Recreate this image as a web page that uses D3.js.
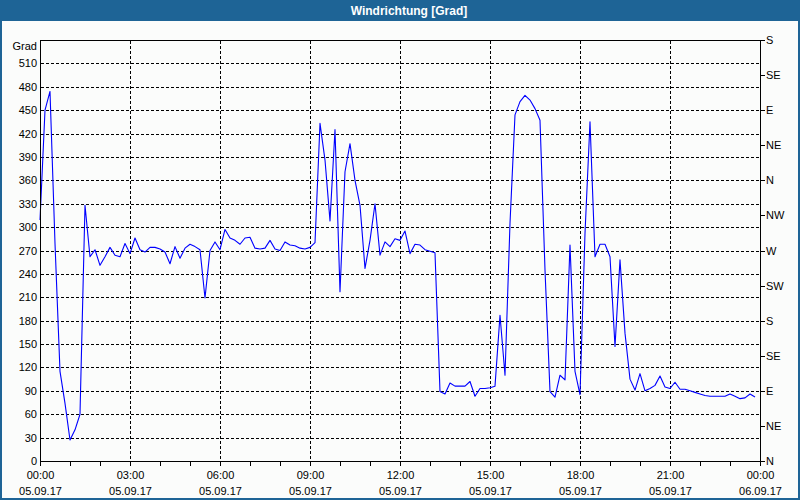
<!DOCTYPE html>
<html>
<head>
<meta charset="utf-8">
<script src="https://cdn.jsdelivr.net/npm/d3@7"></script>
<style>
  html, body { margin: 0; padding: 0; background: #ffffff; }
  svg { display: block; }
  text { font-family: "Liberation Sans", Arial, sans-serif; }
</style>
</head>
<body>
<svg id="chart" width="800" height="500"></svg>
<script>
// ---- data ----
const chartTitle = "Windrichtung [Grad]";
const yUnit = "Grad";
const startTime = new Date(2017, 8, 5, 0, 0);
const endTime = new Date(2017, 8, 6, 0, 0);
const stepMinutes = 10;
// wind direction values [Grad], one every 10 minutes from 05.09.17 00:00
const windDir = [
  309, 450, 474, 279, 115, 74, 27, 40, 60, 328,
  262, 271, 251, 262, 274, 264, 262, 279, 266, 286,
  271, 268, 274, 274, 272, 268, 253, 275, 260, 273,
  278, 275, 271, 209, 270, 281, 271, 297, 286, 283,
  278, 286, 287, 273, 272, 273, 283, 272, 270, 281,
  277, 276, 273, 272, 274, 280, 433, 386, 308, 425,
  217, 371, 407, 360, 328, 247, 283, 330, 264, 281,
  275, 285, 283, 295, 266, 278, 277, 271, 269, 267,
  89, 86, 100, 96, 96, 96, 102, 83, 93, 93,
  94, 96, 187, 110, 305, 444, 461, 469, 463, 452,
  437, 245, 89, 82, 110, 104, 277, 115, 85, 292,
  435, 262, 278, 278, 262, 147, 258, 164, 105, 91,
  112, 90, 93, 97, 109, 95, 93, 101, 92, 92,
  90, 88, 86, 84, 83, 83, 83, 83, 86, 83,
  80, 81, 86, 82
];
const yTicks = [0, 30, 60, 90, 120, 150, 180, 210, 240, 270, 300, 330, 360, 390, 420, 450, 480, 510];
const compassTicks = [0, 45, 90, 135, 180, 225, 270, 315, 360, 405, 450, 495, 540];
const compassLabels = ["N", "NE", "E", "SE", "S", "SW", "W", "NW", "N", "NE", "E", "SE", "S"];
const xTimeLabels = ["00:00", "03:00", "06:00", "09:00", "12:00", "15:00", "18:00", "21:00", "00:00"];
const xDateLabels = ["05.09.17", "05.09.17", "05.09.17", "05.09.17", "05.09.17", "05.09.17", "05.09.17", "05.09.17", "06.09.17"];

// ---- layout ----
const W = 800, H = 500;
const plot = { left: 40, right: 760, top: 40, bottom: 461 };
const svg = d3.select("#chart");

const x = d3.scaleTime().domain([startTime, endTime]).range([plot.left, plot.right]);
const y = d3.scaleLinear().domain([0, 540]).range([plot.bottom, plot.top]);
const px = v => Math.round(v) + 0.5;

// background
svg.append("rect").attr("x", 0).attr("y", 0).attr("width", W).attr("height", H).attr("fill", "#fbfcfb");
// title bar
svg.append("rect").attr("x", 0).attr("y", 0).attr("width", W).attr("height", 21).attr("fill", "#1e6496");
svg.append("text").attr("x", 409).attr("y", 15).attr("text-anchor", "middle")
  .attr("fill", "#ffffff").attr("font-size", 12).attr("font-weight", "bold").text(chartTitle);
// frame
svg.append("rect").attr("x", 1).attr("y", 1).attr("width", W - 2).attr("height", H - 2)
  .attr("fill", "none").attr("stroke", "#1e6496").attr("stroke-width", 2);

// horizontal gridlines
const gy = svg.append("g").attr("shape-rendering", "crispEdges");
gy.selectAll("line").data(yTicks.filter(v => v > 0)).join("line")
  .attr("x1", plot.left + 1).attr("x2", plot.right)
  .attr("y1", d => px(y(d))).attr("y2", d => px(y(d)))
  .attr("stroke", "#000").attr("stroke-width", 1).attr("stroke-dasharray", "3,2");

// vertical gridlines every 3 hours
const majorTimes = d3.timeHour.every(3).range(startTime, endTime).concat([endTime]);
const gx = svg.append("g").attr("shape-rendering", "crispEdges");
gx.selectAll("line").data(majorTimes.slice(1, -1)).join("line")
  .attr("x1", d => px(x(d))).attr("x2", d => px(x(d)))
  .attr("y1", plot.top + 1).attr("y2", plot.bottom)
  .attr("stroke", "#000").attr("stroke-width", 1).attr("stroke-dasharray", "3,2");

// data line
const series = windDir.map((v, i) => ({ t: d3.timeMinute.offset(startTime, i * stepMinutes), v }));
const line = d3.line().x(d => x(d.t)).y(d => y(d.v));
svg.append("path").datum(series).attr("d", line)
  .attr("fill", "none").attr("stroke", "#0000ff").attr("stroke-width", 1.1)
  .attr("stroke-linejoin", "round");

// plot frame (axes)
const frame = svg.append("g").attr("shape-rendering", "crispEdges").attr("stroke", "#000").attr("stroke-width", 1);
frame.append("line").attr("x1", px(plot.left)).attr("x2", px(plot.left)).attr("y1", plot.top).attr("y2", plot.bottom + 5);
frame.append("line").attr("x1", px(plot.right)).attr("x2", px(plot.right)).attr("y1", plot.top).attr("y2", plot.bottom + 5);
frame.append("line").attr("x1", plot.left).attr("x2", plot.right + 1).attr("y1", px(plot.top)).attr("y2", px(plot.top));
frame.append("line").attr("x1", plot.left).attr("x2", plot.right + 1).attr("y1", px(plot.bottom)).attr("y2", px(plot.bottom));

// hourly ticks on bottom axis
const hourTimes = d3.timeHour.every(1).range(startTime, endTime).concat([endTime]);
frame.selectAll("line.xt").data(hourTimes).join("line").attr("class", "xt")
  .attr("x1", d => px(x(d))).attr("x2", d => px(x(d)))
  .attr("y1", plot.bottom).attr("y2", plot.bottom + 5);

// right axis ticks
frame.selectAll("line.rt").data(compassTicks).join("line").attr("class", "rt")
  .attr("x1", plot.right).attr("x2", plot.right + 5)
  .attr("y1", d => px(y(d))).attr("y2", d => px(y(d)));

// left labels
const lab = svg.append("g").attr("font-size", 11).attr("fill", "#000");
lab.selectAll("text.yl").data(yTicks).join("text").attr("class", "yl")
  .attr("x", 37).attr("y", d => y(d) + 4).attr("text-anchor", "end").text(d => d);
lab.append("text").attr("x", 37).attr("y", 50).attr("text-anchor", "end").text(yUnit);

// right labels
lab.selectAll("text.rl").data(compassTicks).join("text").attr("class", "rl")
  .attr("x", 766).attr("y", d => y(d) + 4).attr("text-anchor", "start").text((d, i) => compassLabels[i]);

// bottom labels
lab.selectAll("text.xl").data(majorTimes).join("text").attr("class", "xl")
  .attr("x", d => x(d) + 0.5).attr("y", 479).attr("text-anchor", "middle").text((d, i) => xTimeLabels[i]);
lab.selectAll("text.xd").data(majorTimes).join("text").attr("class", "xd")
  .attr("x", d => x(d) + 0.5).attr("y", 495).attr("text-anchor", "middle").text((d, i) => xDateLabels[i]);
</script>
</body>
</html>
